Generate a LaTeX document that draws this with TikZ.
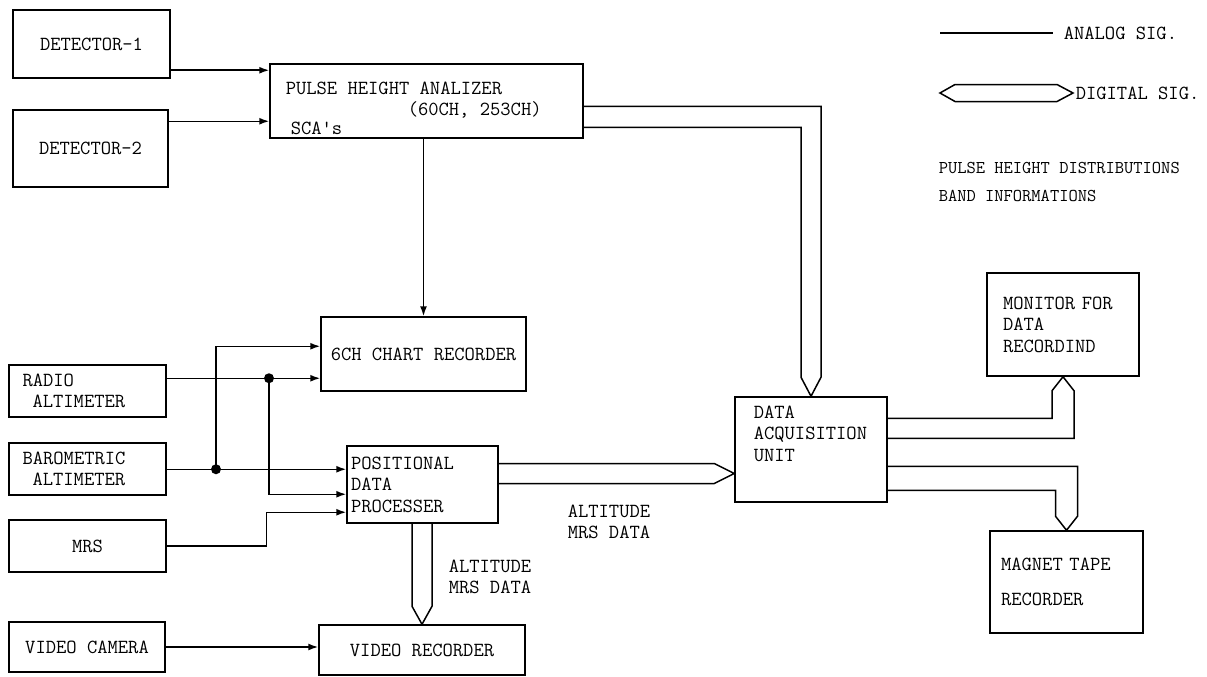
\documentclass[tikz,border=0pt]{standalone}
\usepackage{fontspec}
\usetikzlibrary{arrows.meta,calc}

\begin{document}
\begin{tikzpicture}[x=1pt,y=-1pt,>={Latex[length=10pt,width=7pt]},
    line width=1.5pt,
    every node/.style={font=\ttfamily\fontsize{20}{21.5}\selectfont},
    box/.style={draw, rectangle, inner sep=0pt},
    bsize/.style 2 args={minimum width=#1pt, minimum height=#2pt},
    txt/.style={inner sep=0pt},
    dig/.style={line join=miter}]

  \useasboundingbox (0,0) rectangle (1207,677);

  % Kasten
  \node[box, bsize={157}{68}] (det1) at (91.5,44) {DETECTOR-1};
  \node[box, bsize={155}{77}] (det2) at (90.5,148.5) {DETECTOR-2};
  \node[box, bsize={313}{74}] (pha) at (426.5,101) {};
  \node[box, bsize={205}{74}] (chart) at (423.5,354) {6CH CHART RECORDER};
  \node[box, bsize={157}{52}, text width=130pt, align=left] (radio) at (87.5,391)
    {RADIO\\\hspace*{10pt}ALTIMETER};
  \node[box, bsize={157}{52}, text width=130pt, align=left] (baro) at (87.5,469)
    {BAROMETRIC\\\hspace*{10pt}ALTIMETER};
  \node[box, bsize={157}{52}] (mrs) at (87.5,546) {MRS};
  \node[box, bsize={156}{50}] (vcam) at (87,647) {VIDEO CAMERA};
  \node[box, bsize={206}{50}] (vrec) at (422,650) {VIDEO RECORDER};
  \node[box, bsize={151}{77}, text width=143pt, align=left] (pdp) at (422.5,484.5)
    {POSITIONAL\\DATA\\PROCESSER};
  \node[box, bsize={152}{105}] (dau) at (811,449.5) {};
  \node[box, bsize={152}{103}, text width=120pt, align=left] (mon) at (1063,324.5)
    {MONITOR FOR\\DATA\\RECORDIND};
  \node[box, bsize={153}{102}, text width=131pt, align=left] (mag) at (1066.5,582)
    {MAGNET TAPE\\[13pt]RECORDER};

  % Teksten in de kasten
  \node[txt, anchor=west] (phaA) at (285,88) {PULSE HEIGHT ANALIZER};
  \node[txt, anchor=west] (phaB) at (407,110) {(60CH, 253CH)};
  \node[txt, anchor=west] (phaC) at (290,128) {SCA's};
  \node[txt, anchor=north west, align=left] (dauT) at (753,405)
    {DATA\\ACQUISITION\\UNIT};

  % Bijschriften
  \node[txt, anchor=west, font=\ttfamily\fontsize{18}{21}\selectfont] (phd) at (938,168)
    {PULSE HEIGHT DISTRIBUTIONS};
  \node[txt, anchor=west, font=\ttfamily\fontsize{18}{21}\selectfont] (band) at (938,196)
    {BAND INFORMATIONS};
  \node[txt, anchor=west, align=left] (lab1) at (567,522) {ALTITUDE\\MRS DATA};
  \node[txt, anchor=west, align=left] (lab2) at (448,577) {ALTITUDE\\MRS DATA};

  % Legenda
  \node[txt, anchor=west] (lgA) at (1063,33) {ANALOG SIG.};
  \node[txt, anchor=west] (lgD) at (1075,93) {DIGITAL SIG.};
  \draw ($(lgA.west)+(-123,0)$) -- ($(lgA.west)+(-10,0)$);
  \draw[dig] ($(lgD.west)+(-2,0)$) -- ++(-16,-8.5) -- ++(-102,0) -- ++(-15,8.5)
    -- ++(15,8.5) -- ++(102,0) -- cycle;

  % Analoge lijnen
  \coordinate (in1) at ($(pha.north west)+(0,7)$);
  \coordinate (in2) at ($(pha.north west)+(0,58)$);
  \coordinate (c1) at ($(chart.north west)+(0,30)$);
  \coordinate (c2) at ($(chart.north west)+(0,62)$);
  \coordinate (p1) at ($(pdp.north west)+(0,24)$);
  \coordinate (p2) at ($(pdp.north west)+(0,49)$);
  \coordinate (p3) at ($(pdp.north west)+(0,67)$);
  \coordinate (j1) at (c2 -| 269,0);
  \coordinate (j2) at (p1 -| 216,0);

  \draw[->] (det1.east |- in1) -- (in1);
  \draw[->] (det2.east |- in2) -- (in2);
  \draw[->] (pha.south -| chart.north) -- (chart.north);
  \draw[->] (radio.east |- c2) -- (c2);
  \draw[->] (baro.east |- p1) -- (p1);
  \draw[->] (j2) |- (c1);
  \draw[->] (j1) |- (p2);
  \draw[->] (mrs.east) -| ($(p3)+(-80,0)$) -- (p3);
  \draw[->] (vcam.east) -- (vcam.east -| vrec.west);
  \fill (j1) circle (5pt);
  \fill (j2) circle (5pt);

  % Digitale lijnen
  \draw[dig] ($(pha.north east)+(0,43)$) -| ($(dau.north)+(10,-19)$) -- (dau.north)
    -- ($(dau.north)+(-10,-19)$) |- ($(pha.north east)+(0,64)$);

  \coordinate (t1) at ($(dau.west)+(0,24)$);
  \draw[dig] ($(pdp.east |- t1)+(0,-10)$) -- ($(t1)+(-20,-10)$) -- (t1)
    -- ($(t1)+(-20,10)$) -- ($(pdp.east |- t1)+(0,10)$);

  \draw[dig] ($(vrec.north |- pdp.south)+(-10,0)$) -- ($(vrec.north)+(-10,-18)$)
    -- (vrec.north) -- ($(vrec.north)+(10,-18)$) -- ($(vrec.north |- pdp.south)+(10,0)$);

  \draw[dig] ($(dau.north east)+(0,22)$) -| ($(mon.south)+(-11,14)$) -- (mon.south)
    -- ($(mon.south)+(11,14)$) |- ($(dau.north east)+(0,42)$);

  \draw[dig] ($(dau.north east)+(0,70)$) -| ($(mag.north)+(11,-14)$) -- (mag.north)
    -- ($(mag.north)+(-11,-14)$) |- ($(dau.north east)+(0,94)$);

\end{tikzpicture}
\end{document}
